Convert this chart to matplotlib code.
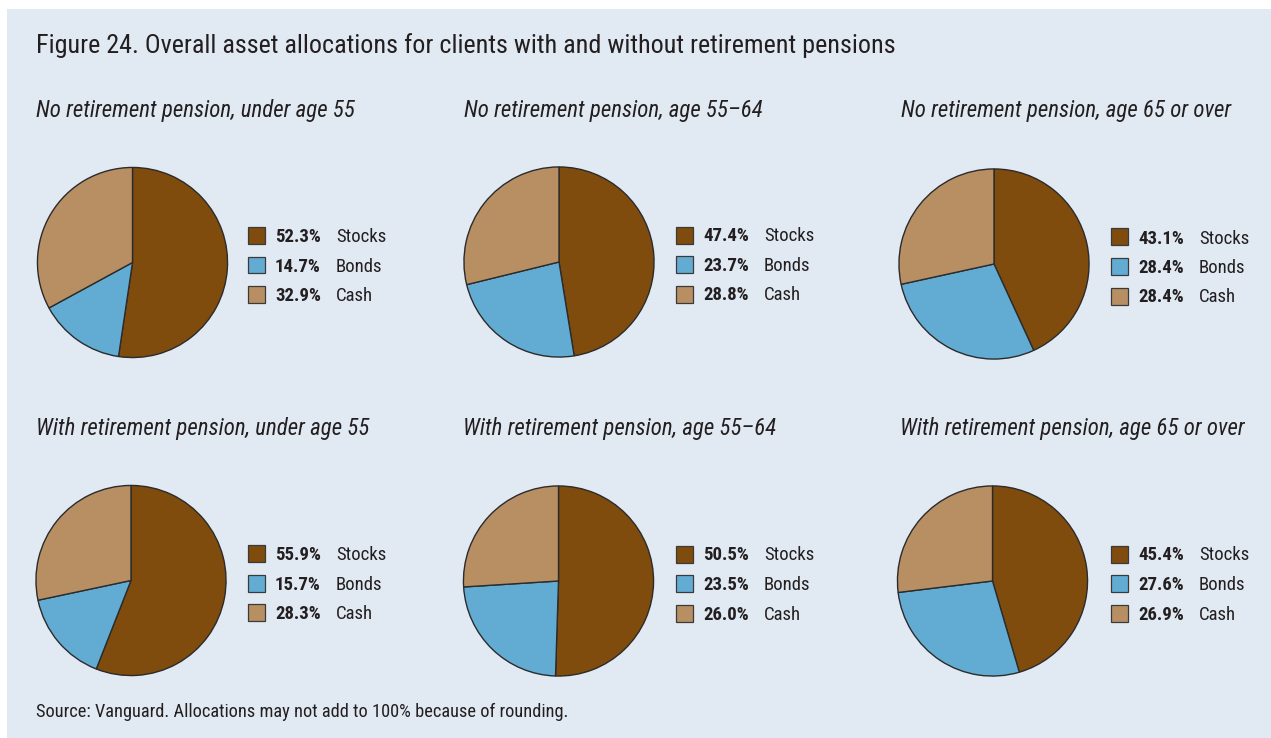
#!/usr/bin/env python3
"""Overall asset allocations for clients with and without retirement pensions."""
import matplotlib
matplotlib.use("Agg")
import matplotlib.pyplot as plt
from matplotlib import font_manager
from matplotlib.patches import Rectangle

W, H = 1271, 738

assets = ["Stocks", "Bonds", "Cash"]
colors = ["#7f4c0d", "#62acd4", "#b88f63"]
panel_titles = [
    "No retirement pension, under age 55",
    "No retirement pension, age 55\u201364",
    "No retirement pension, age 65 or over",
    "With retirement pension, under age 55",
    "With retirement pension, age 55\u201364",
    "With retirement pension, age 65 or over",
]
stocks = [52.3, 47.4, 43.1, 55.9, 50.5, 45.4]
bonds = [14.7, 23.7, 28.4, 15.7, 23.5, 27.6]
cash = [32.9, 28.8, 28.4, 28.3, 26.0, 26.9]

BG = "#e1e9f3"
TXT = "#231f20"

available = {f.name for f in font_manager.fontManager.ttflist}
for fam in ["Roboto Condensed", "Liberation Sans Narrow", "DejaVu Sans Condensed", "Liberation Sans"]:
    if fam in available:
        FONT = fam
        break
else:
    FONT = "DejaVu Sans"
plt.rcParams["font.family"] = [FONT, "DejaVu Sans"]


def fx(x):
    return x / W


def fy(y):
    return 1 - y / H


fig = plt.figure(figsize=(W / 100, H / 100), dpi=100)
fig.patch.set_facecolor("white")
fig.patches.append(Rectangle((fx(7), 0), 1 - fx(7), fy(9), transform=fig.transFigure,
                             facecolor=BG, edgecolor="none", zorder=-10))

fig.text(fx(36), fy(46), "Figure 24. Overall asset allocations for clients with and without retirement pensions",
         fontsize=18.8, color=TXT, va="center", ha="left")

centers = [(132.5, 262.5), (559, 262), (994, 264), (131, 580.5), (558.5, 581), (992.5, 581)]
radius = 96
title_pos = [(36, 110), (464, 110), (901, 110), (36, 428), (463, 428), (900, 428)]
legend_x = [248, 676, 1111, 248, 676, 1111]

for i, title in enumerate(panel_titles):
    cx, cy = centers[i]
    ax = fig.add_axes([fx(cx - radius), fy(cy + radius), 2 * radius / W, 2 * radius / H])
    ax.patch.set_alpha(0)
    ax.pie([stocks[i], bonds[i], cash[i]], colors=colors, startangle=90, counterclock=False,
           radius=1, wedgeprops=dict(edgecolor="#2b2b2b", linewidth=1.0))
    ax.set_xlim(-1.01, 1.01)
    ax.set_ylim(-1.01, 1.01)
    ax.set_axis_off()

    tx, ty = title_pos[i]
    fig.text(fx(tx), fy(ty), title, fontsize=16.5, style="italic", color=TXT, va="center", ha="left")

    vals = [stocks[i], bonds[i], cash[i]]
    ly0 = cy - 27
    for k, (name, val) in enumerate(zip(assets, vals)):
        ly = ly0 + k * 29.5
        lx = legend_x[i]
        fig.patches.append(Rectangle((fx(lx), fy(ly + 8.5)), 17 / W, 17 / H, transform=fig.transFigure,
                                     facecolor=colors[k], edgecolor="#3a3a3a", linewidth=0.9))
        fig.text(fx(lx + 27), fy(ly + 1.5), f"{val:.1f}%", fontsize=13.5, color=TXT,
                 fontweight="bold", va="center", ha="left")
        fig.text(fx(lx + 88), fy(ly + 1.5), name, fontsize=13.5, color=TXT, va="center", ha="left")

fig.text(fx(36), fy(712), "Source: Vanguard. Allocations may not add to 100% because of rounding.",
         fontsize=13.2, color=TXT, va="center", ha="left")

fig.savefig("out.png", dpi=100, facecolor=fig.get_facecolor())
